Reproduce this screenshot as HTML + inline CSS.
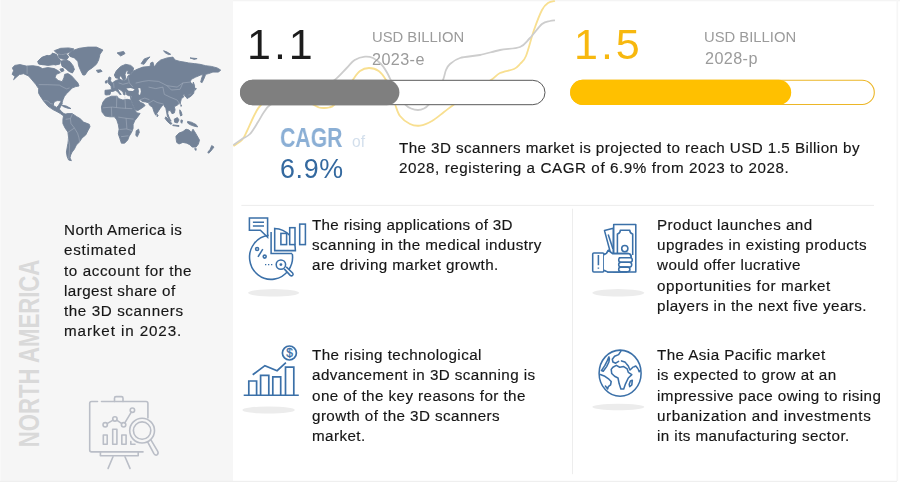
<!DOCTYPE html>
<html lang="en">
<head>
<meta charset="utf-8">
<title>3D Scanners Market</title>
<style>
html,body{margin:0;padding:0;background:#fff;}
body{width:900px;height:490px;position:relative;overflow:hidden;font-family:"Liberation Sans",Arial,sans-serif;color:#222;}
#left{position:absolute;left:0;top:0;width:233px;height:481px;background:#f6f6f6;border-left:1px solid #f9f9f9;box-sizing:border-box;}
#g{position:absolute;left:0;top:0;}
.t,.lbl,.big,.c{will-change:transform;}
.t{position:absolute;font-size:15.2px;letter-spacing:0.43px;line-height:20.25px;white-space:nowrap;color:#161616;-webkit-text-stroke:0.16px #161616;}
.lbl{position:absolute;white-space:nowrap;color:#9b9b9b;}
.big{position:absolute;white-space:nowrap;font-size:43px;line-height:43px;letter-spacing:3px;}
</style>
</head>
<body>
<div id="left"></div>
<svg id="g" width="900" height="490" viewBox="0 0 900 490">
  <!-- faint frame lines -->
  <rect x="233" y="0" width="667" height="1.3" fill="#f4f4f4"/>
  <rect x="896.5" y="0" width="1.6" height="481" fill="#f6f6f6"/>
  <rect x="0" y="480.8" width="897" height="1.2" fill="#efefef"/>
  <!-- world map -->
  <g fill="#738297" stroke="#738297" stroke-width="0.9" stroke-linejoin="round"><path d="M12.4 67.9 L14.7 65.4 L20.0 64.6 L26.4 66.1 L32.9 65.7 L38.6 66.6 L42.4 68.6 L47.9 67.6 L54.3 68.6 L58.1 70.7 L60.4 72.6 L56.4 74.3 L55.0 77.4 L58.1 80.4 L62.1 81.7 L63.9 77.9 L64.7 74.3 L67.9 73.6 L71.4 75.7 L75.0 79.7 L77.9 82.9 L79.0 86.0 L75.7 86.6 L72.1 88.0 L69.6 90.7 L66.7 93.6 L64.4 96.4 L63.0 99.7 L61.9 102.9 L60.4 100.7 L57.6 100.6 L54.7 101.4 L53.1 104.3 L53.1 102.1 L53.6 105.7 L56.7 107.4 L58.6 105.3 L60.7 101.9 L62.4 102.9 L60.7 106.4 L59.3 109.0 L61.4 111.4 L63.9 113.6 L66.4 114.3 L63.6 115.9 L60.4 113.6 L57.1 111.7 L52.9 109.6 L47.9 106.1 L43.6 101.0 L40.0 95.7 L38.6 93.1 L38.6 88.6 L35.7 84.3 L32.1 80.0 L28.6 76.0 L23.6 73.7 L19.3 74.6 L16.1 77.4 L13.6 79.7 L15.0 76.4 L12.1 74.3 L13.6 70.7Z"/><path d="M61.4 61.4 L66.4 62.9 L70.7 65.7 L73.9 69.3 L72.1 72.6 L68.6 70.7 L65.7 67.9 L62.1 65.7Z"/><path d="M54.3 50.7 L60.7 48.3 L68.6 47.9 L73.9 48.9 L70.7 51.7 L66.4 53.6 L62.1 54.3 L57.1 53.6Z"/><path d="M37.6 61.4 L41.4 57.9 L47.1 55.7 L52.1 55.7 L56.4 57.9 L60.0 60.0 L59.3 63.6 L54.3 64.6 L47.9 65.4 L42.4 64.6 L38.6 64.0Z"/><path d="M52.1 53.1 L55.3 54.0 L56.7 56.9 L53.3 57.1Z"/><path d="M58.1 54.6 L62.4 55.1 L66.7 54.3 L68.7 56.9 L66.7 59.7 L62.4 59.1 L59.0 57.7Z"/><path d="M61.0 61.1 L66.4 60.0 L70.0 61.7 L73.0 65.7 L74.4 69.4 L72.4 73.0 L68.6 71.3 L65.7 68.4 L62.1 66.3Z"/><path d="M59.9 69.1 L63.0 68.4 L64.0 70.7 L61.4 71.9Z"/><path d="M47.9 56.9 L52.1 54.0 L56.4 54.3 L58.1 57.4 L60.4 60.3 L59.9 64.0 L55.0 65.1 L50.7 61.4Z"/><path d="M39.3 60.0 L42.4 57.1 L47.3 55.4 L50.4 57.4 L51.0 61.4 L47.9 64.3 L42.4 64.6 L39.0 63.7Z"/><path d="M68.6 54.3 L72.1 50.7 L79.3 48.3 L87.9 47.1 L96.4 47.1 L102.9 50.0 L100.0 54.3 L98.6 60.0 L96.4 64.3 L92.1 67.9 L87.9 70.7 L85.0 75.0 L82.9 75.0 L80.7 70.7 L78.6 65.7 L77.9 61.4 L74.3 57.9 L70.0 56.4Z"/><path d="M96.4 70.3 L100.7 69.7 L102.1 71.4 L97.9 72.6Z"/><path d="M63.6 115.7 L67.1 113.6 L72.1 113.6 L76.4 116.4 L80.0 118.6 L83.6 122.1 L89.3 124.3 L90.0 126.7 L87.9 130.7 L85.7 135.0 L82.1 137.9 L79.3 142.1 L76.4 145.0 L74.3 149.3 L72.1 152.1 L70.7 155.0 L70.0 157.9 L71.4 160.7 L68.6 160.0 L67.1 156.4 L66.4 152.1 L67.1 147.9 L67.9 143.6 L68.6 137.9 L67.9 132.1 L65.0 127.9 L62.9 123.6 L62.9 119.3Z"/><path d="M61.4 105.0 L66.4 106.1 L71.0 108.6 L67.9 108.3 L63.6 106.7Z"/><path d="M105.0 90.3 L111.4 89.7 L111.1 86.0 L109.3 84.3 L112.9 82.6 L115.4 80.7 L118.3 79.7 L118.6 76.4 L120.0 79.3 L123.6 80.9 L126.9 78.9 L127.9 76.0 L131.4 74.0 L132.9 71.4 L137.1 69.3 L142.9 67.1 L150.0 66.4 L150.7 62.9 L152.9 62.1 L154.3 67.1 L157.1 62.9 L160.7 60.0 L167.1 57.9 L172.9 57.1 L175.0 60.0 L180.0 61.4 L184.3 62.1 L188.6 62.9 L194.3 63.6 L200.0 64.3 L205.7 65.7 L211.4 66.4 L217.1 67.9 L220.7 70.0 L218.6 72.1 L212.9 72.1 L208.6 73.6 L205.7 74.3 L204.3 77.9 L202.1 82.6 L200.7 82.1 L201.7 77.9 L203.1 74.6 L200.7 75.0 L195.7 77.1 L191.4 79.3 L190.0 82.1 L192.9 84.3 L194.3 88.6 L192.1 92.1 L188.6 95.0 L186.9 97.1 L185.0 96.4 L184.3 94.3 L182.9 95.0 L183.6 97.1 L181.4 98.6 L180.7 101.4 L180.0 104.3 L179.8 102.8 L177.4 105.1 L174.3 106.7 L175.1 109.8 L174.3 112.9 L172.0 113.7 L170.4 110.6 L168.1 110.6 L167.8 113.7 L168.9 116.8 L170.4 119.9 L171.2 121.1 L169.4 119.9 L167.3 116.0 L166.6 112.1 L165.8 108.2 L164.2 105.9 L163.4 104.3 L160.3 108.2 L157.2 112.9 L155.7 115.2 L154.1 112.1 L152.6 107.4 L149.4 105.1 L148.7 102.8 L145.6 102.0 L142.4 101.5 L140.1 99.7 L138.4 100.1 L140.7 102.6 L143.4 103.6 L145.1 105.6 L141.7 108.2 L137.8 110.6 L135.1 109.8 L133.1 105.1 L131.1 99.7 L130.5 96.2 L131.4 100.0 L131.8 96.1 L128.6 95.7 L126.4 94.6 L126.1 92.5 L125.0 91.4 L125.0 95.0 L123.6 94.6 L122.9 91.8 L120.4 90.0 L118.9 88.9 L117.9 89.6 L119.3 92.1 L121.1 94.3 L120.4 95.0 L118.6 92.9 L116.8 91.1 L115.4 90.4 L112.9 91.4 L110.7 91.4 L110.0 94.6 L106.4 95.0 L105.0 94.6Z"/><path d="M114.3 75.0 L116.4 70.7 L120.7 66.4 L125.7 64.3 L130.7 65.4 L133.6 67.9 L132.9 71.1 L130.7 74.0 L127.4 73.6 L128.3 70.7 L126.4 70.7 L125.0 74.3 L125.7 78.3 L123.6 80.7 L122.1 77.9 L120.7 75.7 L118.6 78.3 L115.7 77.9Z"/><path d="M107.7 81.1 L109.1 76.9 L110.9 77.7 L110.6 80.7 L112.0 83.6 L108.9 84.0Z"/><path d="M105.4 81.1 L107.1 80.6 L107.1 82.9 L105.4 83.1Z"/><path d="M117.1 52.9 L123.6 51.4 L125.0 53.6 L120.7 56.0Z"/><path d="M141.1 63.6 L144.3 58.9 L150.0 56.9 L147.1 60.0 L144.0 64.3Z"/><path d="M163.6 50.7 L167.1 52.1 L170.7 54.3 L168.6 54.6 L165.0 52.6Z"/><path d="M190.0 57.9 L197.1 58.6 L194.3 59.4Z"/><path d="M193.3 82.1 L194.6 85.7 L194.3 89.3 L193.4 89.3Z"/><path d="M194.3 90.0 L193.6 93.6 L190.7 96.4 L187.1 98.6 L186.4 97.1 L190.0 94.7 L192.1 92.1 L193.1 90.0Z"/><path d="M194.3 87.9 L196.4 88.6 L195.0 90.3Z"/><path d="M101.4 107.0 L103.0 102.0 L105.7 98.6 L111.4 96.2 L117.1 96.2 L118.6 98.6 L122.9 100.0 L127.1 99.3 L130.7 100.0 L132.3 104.3 L134.7 109.8 L137.0 112.9 L140.1 113.4 L137.8 116.8 L134.7 120.7 L133.1 124.6 L133.1 128.4 L131.6 132.3 L129.2 136.2 L127.7 140.1 L124.6 143.2 L121.4 143.2 L119.9 138.6 L118.3 133.9 L119.1 129.2 L118.3 124.6 L116.8 119.9 L114.4 116.8 L109.8 116.8 L105.1 116.0 L102.0 112.1Z"/><path d="M136.2 130.8 L138.6 129.2 L139.3 132.3 L137.3 136.7 L135.8 135.4Z"/><path d="M156.9 114.4 L158.2 115.2 L157.2 116.8Z"/><path d="M165.8 116.8 L168.9 119.9 L172.0 123.8 L170.4 124.2 L167.3 121.4 L165.0 118.3Z"/><path d="M174.3 119.1 L177.4 117.6 L179.0 119.9 L177.4 123.0 L174.6 122.2Z"/><path d="M179.8 109.8 L181.3 112.1 L182.1 115.2 L180.6 116.0 L179.8 112.9Z"/><path d="M172.8 124.9 L179.0 125.6 L179.0 126.4 L172.8 125.6Z"/><path d="M181.0 119.9 L182.6 120.4 L181.8 123.3 L180.9 122.2Z"/><path d="M187.6 121.4 L191.4 122.2 L196.1 124.6 L197.7 126.9 L193.8 126.1 L189.9 124.6 L187.6 123.0Z"/><path d="M180.9 104.6 L181.6 105.9 L180.9 106.4Z"/><path d="M175.9 136.2 L179.0 133.1 L182.9 131.6 L186.0 129.2 L189.1 130.0 L191.4 132.3 L193.0 129.2 L194.6 131.6 L196.9 135.4 L199.5 140.1 L198.4 144.0 L196.1 147.1 L192.2 147.1 L189.9 144.8 L186.8 143.2 L182.9 142.4 L179.0 144.0 L176.7 142.4 L176.2 139.3Z"/><path d="M194.6 148.7 L196.3 148.7 L195.8 150.5Z"/><path d="M211.7 145.6 L214.0 147.1 L210.9 151.0 L208.6 153.3 L207.8 152.2 L210.1 149.4Z"/></g>
  <path d="M126.4 88.6 L130.7 87.9 L134.6 89.3 L132.9 90.9 L128.6 90.7Z M138.3 87.9 L140.3 88.3 L140.9 91.4 L140.0 95.0 L138.6 94.3 L138.9 91.1Z" fill="#f6f6f6"/>
  <path d="M27.1 65.1 L27.1 74.0 M38.7 84.6 L47.9 84.7 L59.3 85.1 L62.9 87.1 L66.7 88.9 L69.6 87.9 M43.9 100.3 L47.9 101.1 L50.4 103.6 L52.9 104.0 M72.4 113.9 L70.4 118.6 L71.0 123.6 L74.3 127.9 L77.6 133.3 L79.0 137.9 L79.6 141.9 M67.9 137.9 L69.6 145.0 L69.3 152.1 L68.7 159.3 M65.7 119.3 L70.4 118.6 M67.9 132.4 L74.3 128.1 M102.8 107.8 L112.1 107.1 L121.4 108.1 L132.3 108.7 M116.8 95.6 L116.5 107.4 M124.9 96.6 L125.5 108.4 M111.3 107.1 L111.8 116.5 M118.3 117.1 L126.1 118.3 L133.6 119.1 M119.6 129.5 L126.1 128.9 L132.0 130.5 M126.1 118.3 L126.9 128.9 M121.1 136.7 L128.4 135.8 M135.7 83.1 L142.9 81.4 L148.6 80.6 L158.6 81.4 L167.1 85.7 L177.1 87.1 L182.9 82.9 L190.0 82.1 M162.9 87.1 L164.3 94.3 L170.0 97.1 L177.1 100.0 L180.0 104.3 M148.6 87.1 L155.7 88.6 L162.9 87.1 M167.1 85.7 L171.4 90.0 L180.0 89.3 L182.9 82.9 M127.9 76.4 L129.3 82.9 L132.9 87.1 M118.6 82.9 L122.9 84.3 L128.6 82.9 M113.6 82.9 L114.0 87.9 M148.7 103.1 L153.3 100.4 L157.2 102.5 L163.4 104.0 M140.1 99.7 L144.8 98.1 L149.4 99.7" fill="none" stroke="#b4bdc9" stroke-width="0.45"/>
  <!-- vertical label -->
  <text transform="translate(38.5 447.2) rotate(-90) scale(0.757 1)" font-family="'Liberation Sans',Arial,sans-serif" font-weight="bold" font-size="29.3" fill="#d9d9d9">NORTH AMERICA</text>
  <!-- presentation icon -->
  <g fill="none" stroke="#babec7" stroke-width="1.6" stroke-linecap="round" stroke-linejoin="round">
    <path d="M97.5 401.5 H91.5 Q89.7 401.5 89.7 403.3 V450 Q89.7 451.9 91.5 451.9 H143"/>
    <path d="M101.5 401.5 H146 Q147.9 401.5 147.9 403.3 V418"/>
    <path d="M114.5 401.5 V398.2 Q114.5 396.6 116 396.6 H121.5 Q123 396.6 123 398.2 V401.5"/>
    <path d="M100.4 452 V455.8 H138.2 V452"/>
    <path d="M113 456.8 L108.1 468.4 M125 456.8 L130 468.4"/>
    <circle cx="105.2" cy="424.8" r="2.2"/><circle cx="114.9" cy="418.9" r="2.2"/><circle cx="123.6" cy="424.8" r="2.2"/><circle cx="132.4" cy="410.2" r="2.2"/>
    <path d="M107.1 423.6 L113 420.1 M116.7 420.2 L121.8 423.6 M124.8 422.9 L131.3 412.1"/>
    <rect x="103.3" y="435" width="3.9" height="9.2"/><rect x="112.7" y="429.2" width="4.2" height="15"/><rect x="121.8" y="435" width="4.3" height="9.2"/>
    <path d="M130.8 441.5 V444.2 H135"/>
    <circle cx="142.1" cy="430.6" r="12.4"/><circle cx="142.1" cy="430.6" r="8.7"/>
    <path d="M147.6 441.8 L153.9 453.6 Q155.6 456 157.3 454.6 Q158.8 453.3 157.6 451.2 L150.9 439.9"/>
  </g>
  <!-- wavy lines -->
  <path d="M233.4 146.0 C234.8 145.0 239.7 142.5 242.0 140.0 C244.3 137.5 245.3 134.3 247.0 131.0 C248.7 127.7 250.5 123.2 252.0 120.0 C253.5 116.8 254.7 114.3 256.0 112.0 C257.3 109.7 257.7 108.3 260.0 106.0 C262.3 103.7 265.0 99.5 270.0 98.0 C275.0 96.5 284.2 96.7 290.0 97.0 C295.8 97.3 301.0 98.7 305.0 100.0 C309.0 101.3 311.7 103.8 314.0 105.0 C316.3 106.2 317.3 107.0 319.0 107.5 C320.7 108.0 322.3 108.0 324.0 108.0 C325.7 108.0 327.3 108.0 329.0 107.5 C330.7 107.0 331.5 107.4 334.0 105.0 C336.5 102.6 340.9 97.2 344.0 93.0 C347.1 88.8 350.0 83.7 352.7 80.0 C355.4 76.3 357.3 73.0 360.0 71.0 C362.7 69.0 365.9 68.0 369.0 68.0 C372.1 68.0 375.9 69.0 378.7 71.0 C381.5 73.0 383.9 76.5 386.0 80.0 C388.1 83.5 389.5 88.0 391.0 92.0 C392.5 96.0 393.5 100.0 395.0 104.0 C396.5 108.0 397.5 112.7 400.0 116.0 C402.5 119.3 406.7 122.4 410.0 124.0 C413.3 125.6 416.3 126.1 420.0 125.6 C423.7 125.1 428.0 123.3 432.0 121.0 C436.0 118.7 440.3 114.8 444.0 112.0 C447.7 109.2 449.3 107.7 454.0 104.4 C458.7 101.1 465.8 96.1 472.0 92.0 C478.2 87.9 486.3 83.2 491.0 80.0 C495.7 76.8 496.2 74.8 500.0 73.0 C503.8 71.2 510.7 70.5 514.0 69.0 C517.3 67.5 518.0 66.2 520.0 64.0 C522.0 61.8 523.7 61.7 526.0 56.0 C528.3 50.3 531.3 37.7 534.0 30.0 C536.7 22.3 539.7 14.5 542.0 10.0 C544.3 5.5 545.8 4.5 548.0 3.0 C550.2 1.5 553.8 1.3 555.0 1.0" fill="none" stroke="#f8df90" stroke-width="1.8"/>
  <path d="M233.4 145.0 C234.8 144.0 239.2 140.8 242.0 139.0 C244.8 137.2 247.3 136.8 250.0 134.0 C252.7 131.2 255.7 125.7 258.0 122.0 C260.3 118.3 262.0 114.8 264.0 112.0 C266.0 109.2 266.5 107.5 270.0 105.0 C273.5 102.5 279.2 99.0 285.0 97.0 C290.8 95.0 298.8 94.5 305.0 93.0 C311.2 91.5 317.1 90.2 322.0 88.0 C326.9 85.8 330.6 83.3 334.7 80.0 C338.8 76.7 343.4 71.3 346.7 68.0 C350.0 64.7 351.6 61.9 354.7 60.0 C357.8 58.1 361.9 57.0 365.0 56.7 C368.1 56.4 370.3 56.8 373.0 58.0 C375.7 59.2 378.7 61.7 381.0 64.0 C383.3 66.3 385.1 69.3 386.7 72.0 C388.3 74.7 389.0 76.3 390.7 80.0 C392.4 83.7 394.6 89.9 397.0 94.0 C399.4 98.1 402.7 102.0 405.0 104.4 C407.3 106.8 408.8 107.6 411.0 108.5 C413.2 109.4 415.8 110.0 418.0 110.0 C420.2 110.0 422.2 109.4 424.0 108.5 C425.8 107.6 427.0 106.8 429.0 104.4 C431.0 102.0 433.7 98.1 436.0 94.0 C438.3 89.9 441.3 84.0 443.0 80.0 C444.7 76.0 444.8 72.7 446.0 70.0 C447.2 67.3 447.7 66.0 450.0 64.0 C452.3 62.0 455.0 59.5 460.0 58.0 C465.0 56.5 473.3 56.3 480.0 55.0 C486.7 53.7 493.3 51.3 500.0 50.0 C506.7 48.7 515.0 49.0 520.0 47.0 C525.0 45.0 526.3 41.8 530.0 38.0 C533.7 34.2 538.7 26.8 542.0 24.0 C545.3 21.2 547.8 21.6 550.0 21.0 C552.2 20.4 554.2 20.5 555.0 20.4" fill="none" stroke="#cdcdcd" stroke-width="1.8"/>
  <!-- progress bars -->
  <rect x="240.5" y="80.3" width="304.5" height="24.4" rx="12.2" fill="#fff" stroke="#595959" stroke-width="1"/>
  <rect x="240" y="79.8" width="159.4" height="25.4" rx="12.7" fill="#7f7f7f"/>
  <rect x="570.7" y="80.3" width="303.6" height="24.2" rx="12.1" fill="#fff" stroke="#ecb627" stroke-width="1.1"/>
  <rect x="570.2" y="79.8" width="221" height="25.2" rx="12.6" fill="#ffc000"/>
  <!-- dividers -->
  <rect x="241.3" y="204.9" width="632.7" height="1" fill="#ededed"/>
  <rect x="572" y="208.7" width="1" height="265.5" fill="#ededed"/>
  <!-- shadows -->
  <ellipse cx="273.6" cy="292.8" rx="25.6" ry="3.7" fill="#ececec"/>
  <ellipse cx="268.6" cy="410" rx="26.2" ry="3.6" fill="#ececec"/>
  <ellipse cx="618.3" cy="292.8" rx="26" ry="3.7" fill="#ececec"/>
  <ellipse cx="618.3" cy="407" rx="26" ry="3.2" fill="#ececec"/>
  <!-- icon 1 : analytics -->
  <g fill="none" stroke="#3b70a8" stroke-width="1.55" stroke-linejoin="miter">
    <path d="M249.4 218 H267.6 V237.2 L260.4 230.3 H249.4 Z"/>
    <path d="M252.9 222.3 H264 M252.9 226 H264"/>
    <path d="M268.6 235.3 A21.5 22.1 0 1 0 292.3 253.8"/>
    <path d="M271.1 232 V253.4 H292.2"/>
    <path d="M274.7 228.4 V250.6 H295.4 A21.6 21.6 0 0 0 274.7 228.4 Z" />
    <rect x="280.9" y="233.4" width="5.7" height="11.2" fill="#fff"/>
    <rect x="289.7" y="227.7" width="5.3" height="16.9" fill="#fff"/>
    <rect x="299.7" y="224.1" width="5.7" height="20.5" fill="#fff"/>
    <circle cx="257.1" cy="248.9" r="1.5"/><circle cx="264.7" cy="256.6" r="1.5"/>
    <path d="M262.8 249.2 L258 256.8"/>
    <path d="M265 264.6 h1.3 M268 264.6 h1.3 M271 264.6 h1.3" stroke-width="1.4"/>
    <circle cx="280.9" cy="264.6" r="4.7" fill="#fff"/>
    <circle cx="280.9" cy="264.6" r="0.7" fill="#3b70a8"/>
    <path d="M284.2 268.9 L290.2 275.4 Q291.6 276.5 292.7 275.3 Q293.6 274.2 292.6 273 L286.2 266.9" fill="#fff"/>
  </g>
  <!-- icon 2 : growth -->
  <g fill="none" stroke="#3b70a8" stroke-width="1.7" stroke-linejoin="miter">
    <path d="M243.7 395.3 H298.8" stroke-width="1.6"/>
    <path d="M248.8 395 V381 H256.6 V395 M260.6 395 V375.3 H268.8 V395 M272.8 395 V376.9 H280.7 V395 M285.5 395 V367.1 H293.8 V395"/>
    <path d="M252.7 374.8 L264.9 365.6 L277.1 370.7 L285.9 362.6"/>
    <circle cx="289.4" cy="353" r="7"/>
  </g>
  <text x="289.5" y="357" text-anchor="middle" font-family="'Liberation Sans',Arial,sans-serif" font-size="12" stroke="#3b70a8" stroke-width="0.3" fill="#3b70a8">$</text>
  <!-- icon 3 : hand with money -->
  <g fill="none" stroke="#3b70a8" stroke-width="1.55" stroke-linejoin="round">
    <path d="M604.5 230.6 L613.3 228.3 L613.3 254 L610.8 254 Z"/>
    <path d="M608.2 234.5 L613 249"/>
    <rect x="613.7" y="224.4" width="22.1" height="47.5" fill="#fff"/>
    <path d="M617.4 254 V234 Q620.3 233.6 620.3 230.3 H629.8 Q629.8 233.6 632.7 234 V255"/>
    <circle cx="624.8" cy="248.6" r="3.1"/>
    <rect x="592.7" y="252.9" width="11.2" height="19" rx="1.2"/>
    <path d="M598.4 255 V265.2 M598.4 267.6 V268.8"/>
    <path d="M603.9 254.8 L606.5 253.4 L608.3 250.4 L612.5 253.6 H628 Q631.6 254.3 631 257.5 H618.8 M603.9 270.1 L607.6 271.9 H627" fill="#fff"/>
    <path d="M604 254.8 L606.5 253.4 L608.3 250.4 L612.5 253.6 H628 Q631.6 254.3 631 257.8 H618.8 V271.8 H607.6 L604 270.1 Z" fill="#fff" stroke="none"/>
    <path d="M603.9 254.8 L606.5 253.4 L608.3 250.4 L612.5 253.6 H628 Q631.6 254.3 631 257.8 H618.8 M603.9 270.1 L607.6 271.9 H619"/>
    <rect x="618.7" y="257.8" width="13.6" height="4.5" rx="2.2" fill="#fff"/>
    <rect x="618.7" y="262.3" width="13" height="4.8" rx="2.3" fill="#fff"/>
    <rect x="618.7" y="267.1" width="11.2" height="4.6" rx="2.2" fill="#fff"/>
  </g>
  <!-- icon 4 : globe -->
  <g fill="none" stroke="#3b70a8" stroke-width="1.55" stroke-linejoin="round" stroke-linecap="round">
    <ellipse cx="620.1" cy="373.2" rx="21" ry="23.1"/>
    <path d="M612.9 367.2 L616.3 365.4 L619.7 367.2 L623.7 366.6 L627.2 368.9 L628.3 372.3 L631.8 374.6 L628.3 378 L625.5 383.8 L623.7 388.9 L620.9 388.9 L619.2 383.8 L618 378 L614.6 376.3 L611.7 373.5 L611.2 369.4 Z"/>
    <path d="M620.9 351.1 L618.6 354.6 L614.6 356.3 L612.3 359.2 L612.9 362 L615.7 363.2 L618.6 361.4"/>
    <path d="M621.5 360.9 L624.9 362 L628.3 366 L630 370 L632.9 367.2 L635.8 366 L638.1 368.9 L639.2 371.7 L640.3 370.6" stroke-dasharray="5 1.2"/>
    <path d="M608.9 356.9 L607.2 360.9 L604.9 365.4 L601.4 370.6 L603.2 371.2 L606.6 366.6 L608.9 362 L609.4 358.6 Z"/>
    <path d="M600.3 374.6 L604.9 376.3 L608.9 379.2 L611.2 381.5 L610.6 384.9 L608.3 386.6 L607.7 388.9 L605.4 386"/>
    <path d="M630.4 380.9 L632.3 380.3 L631.8 384.9 L629.7 386.6 L629.2 384.3 Z"/>
  </g>
</svg>

<!-- numbers -->
<div class="big" style="left:247.2px;top:23.4px;color:#1c1c1c;">1.1</div>
<div class="big" style="left:574px;top:23.2px;color:#f7b80f;">1.5</div>
<div class="lbl" style="left:371.5px;top:28px;font-size:14.8px;line-height:18px;">USD BILLION</div>
<div class="lbl" style="left:372px;top:49px;font-size:16.2px;line-height:20px;letter-spacing:0.4px;">2023-e</div>
<div class="lbl" style="left:704.2px;top:28px;font-size:14.8px;line-height:18px;">USD BILLION</div>
<div class="lbl" style="left:704.7px;top:48px;font-size:16.2px;line-height:20px;letter-spacing:0.4px;">2028-p</div>

<!-- CAGR -->
<div class="c" style="position:absolute;left:279.9px;top:123px;font-size:27.5px;line-height:30px;font-weight:bold;color:#8bafd5;transform:scaleX(0.772);transform-origin:0 0;white-space:nowrap;">CAGR</div>
<div class="c" style="position:absolute;left:352px;top:132px;font-size:15.6px;line-height:20px;color:#d3dfec;white-space:nowrap;">of</div>
<div class="c" style="position:absolute;left:280.3px;top:153.5px;font-size:26.8px;line-height:30px;letter-spacing:0.7px;color:#34699f;white-space:nowrap;">6.9%</div>

<!-- summary -->
<div class="t" style="left:398.6px;top:137.5px;line-height:20px;">The 3D scanners market is projected to reach USD 1.5 Billion by<br><span style="letter-spacing:0.57px">2028, registering a CAGR of 6.9% from 2023 to 2028.</span></div>

<!-- left panel text -->
<div class="t" style="left:64px;top:219.7px;line-height:20.28px;">North America is<br><span style="letter-spacing:0.75px">estimated</span><br><span style="letter-spacing:0.6px">to account for the</span><br>largest share of<br><span style="letter-spacing:0.6px">the 3D scanners</span><br><span style="letter-spacing:0.9px">market in 2023.</span></div>

<!-- four drivers -->
<div class="t" style="left:312px;top:214.7px;line-height:20.1px;"><span style="letter-spacing:0.32px">The rising applications of 3D</span><br>scanning in the medical industry<br>are driving market growth.</div>
<div class="t" style="left:657.2px;top:214.9px;line-height:20.2px;">Product launches and<br>upgrades in existing products<br>would offer lucrative<br><span style="letter-spacing:0.6px">opportunities for market</span><br>players in the next five years.</div>
<div class="t" style="left:312px;top:345.3px;line-height:20.3px;">The rising technological<br>advancement in 3D scanning is<br>one of the key reasons for the<br>growth of the 3D scanners<br>market.</div>
<div class="t" style="left:657px;top:345.3px;line-height:20.3px;">The Asia Pacific market<br>is expected to grow at an<br>impressive pace owing to rising<br><span style="letter-spacing:0.6px">urbanization and investments</span><br>in its manufacturing sector.</div>
</body>
</html>
